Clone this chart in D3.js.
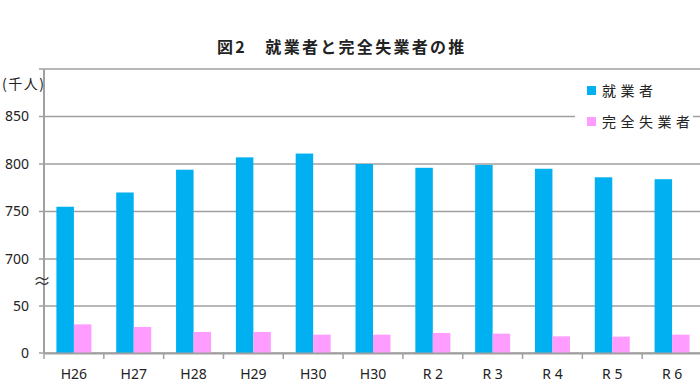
<!DOCTYPE html>
<html>
<head>
<meta charset="utf-8">
<script src="https://cdn.jsdelivr.net/npm/d3@7"></script>
<style>
  body { margin: 0; background: #fff; }
  svg { display: block; font-family: "Noto Sans CJK JP", "Noto Sans", sans-serif; }
</style>
</head>
<body>
<svg id="chart" width="700" height="388"></svg>
<script>
// categories (H30 appears twice in the source chart)
var years = ['H26', 'H27', 'H28', 'H29', 'H30', 'H30', 'R 2', 'R 3', 'R 4', 'R 5', 'R 6'];
var employed = [755, 770, 794, 807, 811, 800, 796, 799, 795, 786, 784];
var unemployed = [30.5, 27.7, 22.4, 22.4, 19.5, 19.5, 21.3, 20.6, 17.7, 17.4, 19.5];
var seriesNames = ['就業者', '完全失業者'];
var seriesColors = ['#00b0f0', '#ff9cff'];
// broken axis: 0-50, gap, 700-900
var yTicks = [0, 50, 700, 750, 800, 850, 900];
var yLabels = ['0', '50', '700', '750', '800', '850', ''];

(function() {
  var svg = d3.select('#chart');

  var left = 44, right = 702, base = 353, plotTop = 69;

  var x = d3.scaleBand()
    .domain(d3.range(years.length))
    .range([left, right]);

  var xs = d3.scaleBand()
    .domain([0, 1])
    .range([0, x.bandwidth()])
    .paddingOuter(0.71);

  // piecewise scale gives the break: one tick-step of empty space between 50 and 700
  var y = d3.scaleLinear()
    .domain([0, 50, 700, 900])
    .range([base, 306, 259, plotTop]);

  // gridlines
  svg.append('g')
    .selectAll('line')
    .data(yTicks)
    .enter().append('line')
      .attr('x1', left - 5)
      .attr('x2', right)
      .attr('y1', function(d) { return y(d); })
      .attr('y2', function(d) { return y(d); })
      .attr('stroke', '#a0a0a0')
      .attr('stroke-width', 1.5);

  // y labels
  svg.append('g')
    .selectAll('text')
    .data(yTicks)
    .enter().append('text')
      .attr('x', 29)
      .attr('y', function(d) { return y(d); })
      .attr('dy', '0.35em')
      .attr('text-anchor', 'end')
      .attr('font-size', 14)
      .attr('font-family', '"Noto Sans", sans-serif')
      .attr('fill', '#222')
      .text(function(d, i) { return yLabels[i]; });

  // bars
  var groups = svg.append('g')
    .selectAll('g')
    .data(years)
    .enter().append('g')
      .attr('transform', function(d, i) { return 'translate(' + x(i) + ',0)'; });

  groups.append('rect')
    .attr('x', xs(0))
    .attr('width', xs.bandwidth())
    .attr('y', function(d, i) { return y(employed[i]); })
    .attr('height', function(d, i) { return y(0) - y(employed[i]); })
    .attr('fill', seriesColors[0]);

  groups.append('rect')
    .attr('x', xs(1))
    .attr('width', xs.bandwidth())
    .attr('y', function(d, i) { return y(unemployed[i]); })
    .attr('height', function(d, i) { return y(0) - y(unemployed[i]); })
    .attr('fill', seriesColors[1]);

  // y axis line
  svg.append('line')
    .attr('x1', left).attr('x2', left)
    .attr('y1', plotTop).attr('y2', base)
    .attr('stroke', '#a0a0a0').attr('stroke-width', 2);

  var xAxis = d3.axisBottom(x)
    .tickFormat(function(i) { return years[i]; })
    .tickSize(0)
    .tickPadding(16);

  var xg = svg.append('g')
    .attr('transform', 'translate(0,' + base + ')')
    .call(xAxis);
  xg.select('.domain').attr('stroke', '#a0a0a0').attr('stroke-width', 2);
  xg.selectAll('text').attr('font-size', 14).attr('fill', '#222')
    .attr('font-family', '"Noto Sans", sans-serif');

  // tick marks at band boundaries
  svg.append('g')
    .selectAll('line')
    .data(d3.range(years.length + 1))
    .enter().append('line')
      .attr('x1', function(i) { return left + i * x.step(); })
      .attr('x2', function(i) { return left + i * x.step(); })
      .attr('y1', base)
      .attr('y2', base + 6)
      .attr('stroke', '#a0a0a0')
      .attr('stroke-width', 1.5);

  // break mark
  svg.append('text')
    .attr('x', 42)
    .attr('y', 282)
    .attr('dy', '0.35em')
    .attr('text-anchor', 'middle')
    .attr('font-size', 18)
    .attr('fill', '#333')
    .text('≈');

  // unit label
  svg.append('text')
    .attr('x', 2)
    .attr('y', 84)
    .attr('dy', '0.35em')
    .attr('font-size', 14)
    .attr('letter-spacing', 1.5)
    .attr('fill', '#222')
    .text('(千人)');

  // title
  svg.append('text')
    .attr('x', 217)
    .attr('y', 47)
    .attr('dy', '0.35em')
    .attr('font-size', 16)
    .attr('font-weight', 'bold')
    .attr('letter-spacing', 2.3)
    .attr('fill', '#222')
    .text('図2　就業者と完全失業者の推');

  // legend
  svg.append('rect')
    .attr('x', 575).attr('y', 76)
    .attr('width', 118).attr('height', 58)
    .attr('fill', '#fff');

  var legend = svg.append('g')
    .selectAll('g')
    .data(seriesNames)
    .enter().append('g')
      .attr('transform', function(d, i) { return 'translate(587,' + (91 + i * 31) + ')'; });

  legend.append('rect')
    .attr('x', 0).attr('y', -5)
    .attr('width', 9).attr('height', 9)
    .attr('fill', function(d, i) { return seriesColors[i]; });

  legend.append('text')
    .attr('x', 15)
    .attr('y', 0)
    .attr('dy', '0.35em')
    .attr('font-size', 14)
    .attr('letter-spacing', 4.5)
    .attr('fill', '#222')
    .text(function(d) { return d; });
})();
</script>
</body>
</html>
